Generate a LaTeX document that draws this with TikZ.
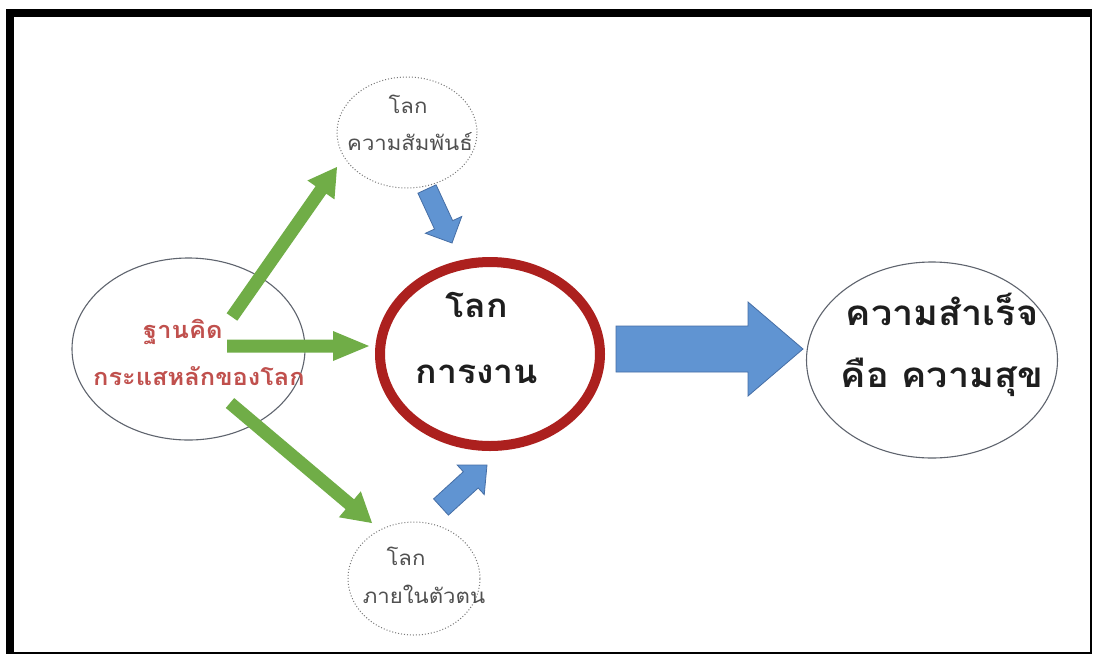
\documentclass[tikz,border=0pt]{standalone}
\usepackage{fontspec}
\newfontfamily\thai[Script=Thai,FakeStretch=1.08]{Loma}
\usetikzlibrary{shapes.geometric,calc}
\definecolor{frameblack}{RGB}{0,0,0}
\definecolor{ellgray}{RGB}{95,100,110}
\definecolor{dotgray}{RGB}{120,120,120}
\definecolor{ringred}{RGB}{172,32,30}
\definecolor{txtred}{RGB}{192,80,77}
\definecolor{txtgray}{RGB}{80,80,80}
\definecolor{txtdark}{RGB}{30,30,30}
\definecolor{arrgreen}{RGB}{112,173,71}
\definecolor{arrblue}{RGB}{96,148,210}
\definecolor{arrblueline}{RGB}{70,110,165}
\newcommand\fatarr[6]{%
  \coordinate (fa-c) at ($(#3)!#6!(#2)$);
  \path[#1] ($(#2)!#4!90:(#3)$) -- ($(fa-c)!#4!-90:(#2)$) -- ($(fa-c)!#5!-90:(#2)$)
    -- (#3) -- ($(fa-c)!#5!90:(#2)$) -- ($(fa-c)!#4!90:(#2)$) -- ($(#2)!#4!-90:(#3)$) -- cycle;
}
\tikzset{
  oval/.style={ellipse, draw=ellgray, line width=1.1pt, inner sep=0pt},
  dotoval/.style={ellipse, draw=dotgray, line width=1pt, dotted, inner sep=0pt},
  ring/.style={ellipse, draw=ringred, line width=10pt, inner sep=0pt},
  greenarr/.style={fill=arrgreen},
  bluearr/.style={fill=arrblue, draw=arrblueline, line width=0.8pt},
  bigtxt/.style={anchor=base, text=txtdark, font=\thai\bfseries\fontsize{35}{40}\selectfont, inner sep=0pt},
  midtxt/.style={anchor=base, text=txtdark, font=\thai\bfseries\fontsize{33}{38}\selectfont, inner sep=0pt},
  redtxt/.style={anchor=base, text=txtred, font=\thai\bfseries\fontsize{23.5}{27}\selectfont, inner sep=0pt},
  smalltxt/.style={anchor=base, text=txtgray, font=\thai\fontsize{20.5}{24}\selectfont, inner sep=0pt},
}
\begin{document}
\begin{tikzpicture}[x=1pt,y=-1pt]
\useasboundingbox (0,0) rectangle (1095,657);
\fill[white] (0,0) rectangle (1095,657);
% frame
\fill[frameblack] (6,9) rectangle (1092,17);
\fill[frameblack] (6,9) rectangle (14,654);
\fill[frameblack] (1090,9) rectangle (1092,654);
\fill[frameblack] (6,652) rectangle (1092,654);

% shapes
\node[oval, minimum width=233pt, minimum height=182pt] (base) at (188.5,349) {};
\node[dotoval, minimum width=140pt, minimum height=111pt] (rel) at (407,132.5) {};
\node[dotoval, minimum width=132pt, minimum height=113pt] (self) at (414,578.5) {};
\node[ring, minimum width=220pt, minimum height=184pt] (work) at (490,354) {};
\node[oval, minimum width=251pt, minimum height=196pt] (succ) at (932,360) {};

% texts
\node[redtxt] (t1) at (183,338) {ฐานคิด};
\node[redtxt] (t2) at (199,385) {กระแสหลักของโลก};
\node[smalltxt] (t3) at (408,113) {โลก};
\node[smalltxt] (t4) at (410,150) {ความสัมพันธ์};
\node[smalltxt] (t5) at (406,565) {โลก};
\node[smalltxt] (t6) at (424,603) {ภายในตัวตน};
\node[midtxt] (t7) at (477,317) {โลก};
\node[midtxt] (t8) at (477,383) {การงาน};
\node[bigtxt] (t9) at (942,325) {ความสำเร็จ};
\node[bigtxt] (t10) at (942,387) {คือ ความสุข};

% arrow end points
\coordinate (g1s) at (232,317); \coordinate (g1e) at (337,167);
\coordinate (g2s) at (227,346); \coordinate (g2e) at (369,346);
\coordinate (g3s) at (230,403); \coordinate (g3e) at (372,523);
\coordinate (b1s) at (427,189); \coordinate (b1e) at (452,243);
\coordinate (b2s) at (441,507); \coordinate (b2e) at (487,465);
\coordinate (b3s) at (616,349); \coordinate (b3e) at (803,349);

\fatarr{greenarr}{g1s}{g1e}{6.5pt}{16.5pt}{28pt}
\fatarr{greenarr}{g2s}{g2e}{6.5pt}{15pt}{36pt}
\fatarr{greenarr}{g3s}{g3e}{6.5pt}{17pt}{29pt}
\fatarr{bluearr}{b1s}{b1e}{10pt}{20pt}{20pt}
\fatarr{bluearr}{b2s}{b2e}{11pt}{20pt}{22pt}
\fatarr{bluearr}{b3s}{b3e}{23pt}{47pt}{55pt}
\end{tikzpicture}
\end{document}
